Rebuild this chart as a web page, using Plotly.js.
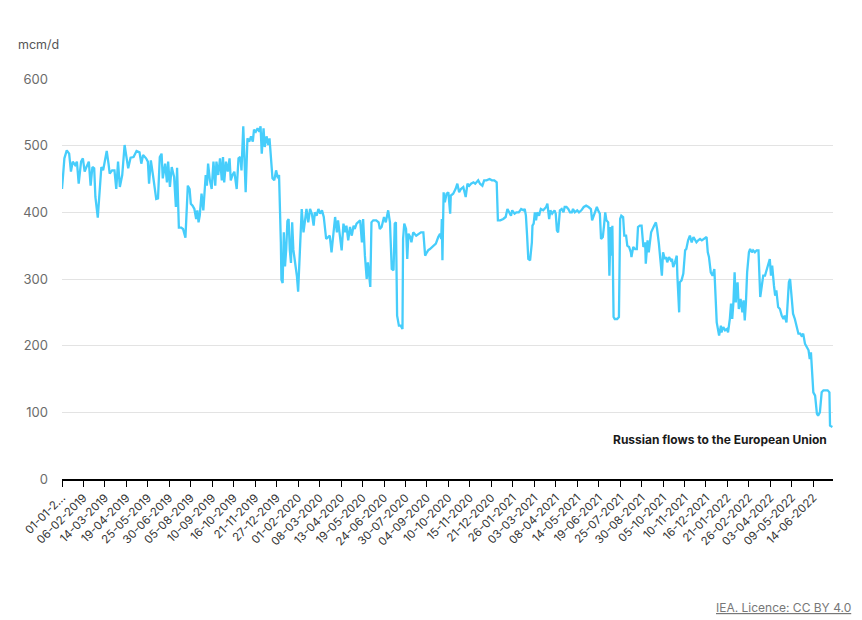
<!DOCTYPE html>
<html>
<head>
<meta charset="utf-8">
<script src="https://cdn.plot.ly/plotly-3.0.1.min.js"></script>
<style>
  html, body { margin: 0; padding: 0; background: #fff; }
  #chart { width: 862px; height: 620px; }
</style>
</head>
<body>
<div id="chart"></div>
<script>
// days counted from 01-01-2019 (mcm/d)
var startDate = "2019-01-01";

var dayOffset = [
  0, 4, 8, 12, 15, 18, 22, 25, 28, 32, 35, 38, 41, 45, 48, 51, 54, 56, 60, 63, 66, 69, 75, 78, 80,
  84, 88, 91, 94, 97, 101, 105, 108, 111, 115, 120, 125, 130, 133, 136, 141, 144, 146, 149, 153,
  158, 161, 164, 167, 169, 173, 176, 178, 181, 184, 188, 191, 193, 196, 200, 203, 207,
  211, 214, 216, 219, 222, 225, 227, 229, 231, 234, 237, 239, 241, 243, 245, 248, 251, 254, 257,
  259, 262, 265, 268, 270, 272, 275, 278, 281, 283, 286, 289, 293, 296, 299, 301, 304, 306, 308,
  311, 314, 317, 320, 322, 325, 328, 331, 333, 335, 338, 340, 343, 346, 348, 351, 353, 356, 359,
  362, 364, 367, 368, 370, 372, 374, 376, 378, 380, 382, 384, 386, 388, 391, 394, 396, 399, 402,
  405, 408, 410, 413,
  416, 419, 422, 424, 427, 430, 433, 436, 439, 443, 447, 449, 452, 455, 458, 461, 463, 466, 469,
  472, 475, 477, 480, 483, 486, 489, 491, 494, 497, 500, 503, 505, 508, 511, 513, 515, 517, 519,
  522, 527, 531, 533, 536, 540, 543, 547, 550, 553, 556, 558, 560, 562, 565, 568, 571, 572, 574,
  577, 579, 581, 584, 586, 589, 594, 598, 602, 606, 609, 612, 614, 617, 621, 624,
  627, 631, 634, 636, 637, 638, 640, 642, 645, 648, 651, 652, 656, 660, 663, 666, 669, 673, 677,
  680, 683, 686, 690, 693, 695, 698, 701, 705, 708, 712, 717, 721, 725, 729, 731, 735, 740, 744,
  747, 750, 753, 755, 759, 762, 766, 770, 774, 776, 778, 780, 782, 785, 788, 789, 791, 793, 795,
  797, 800, 803, 807, 812, 814, 817, 819, 822, 826, 828, 830, 832, 835,
  838, 841, 843, 846, 849, 852, 855, 857, 860, 864, 867, 871, 875, 879, 883, 887, 889, 891, 894,
  897, 899, 902, 904, 907, 909, 911, 913, 916, 918, 920, 922, 923, 925, 927, 931, 934, 936, 938,
  941, 943, 946, 948, 951, 954, 955, 958, 961, 964, 966, 969, 972, 975, 978, 979, 982, 984, 988,
  990, 993, 996, 998, 1001, 1004, 1006, 1008, 1011, 1013, 1015, 1018, 1021, 1023, 1025, 1028,
  1031, 1032, 1035, 1036, 1039, 1042, 1045, 1047, 1050, 1053, 1056, 1059,
  1062, 1064, 1067, 1070, 1073, 1076, 1078, 1081, 1083, 1085, 1088, 1091, 1094, 1096, 1098, 1101,
  1102, 1105, 1106, 1109, 1112, 1115, 1117, 1120, 1122, 1124, 1126, 1128, 1130, 1131, 1133, 1135,
  1138, 1141, 1143, 1145, 1147, 1149, 1152, 1154, 1157, 1159, 1162, 1165, 1168, 1171, 1173, 1176,
  1179, 1182, 1185, 1187, 1189, 1191, 1194, 1196, 1198, 1201, 1204, 1207, 1210, 1212, 1215, 1217,
  1219, 1221, 1224, 1226, 1229, 1232, 1235, 1238, 1240, 1243, 1246, 1249, 1252, 1254, 1256, 1258,
  1260, 1263, 1266, 1268, 1271, 1274, 1277, 1280, 1284, 1287, 1288, 1292
];

var russianFlowsEU = [
  435, 481, 493, 488, 461, 476, 471, 476, 443, 476, 481, 461, 468, 476, 440, 468, 466, 423, 392, 440, 468, 463, 492, 473, 458,
  463, 463, 435, 476, 438, 456, 501, 483, 466, 482, 483, 492, 490, 473, 486, 481, 476, 443, 478, 453,
  420, 421, 483, 488, 451, 473, 445, 476, 438, 468, 453, 408, 467, 377, 377, 375, 362,
  440, 435, 413, 410, 405, 390, 403, 385, 395, 428, 403, 435, 456, 440, 473, 448, 435, 476, 440,
  476, 456, 481, 448, 483, 445, 476, 461, 481, 448, 456, 461, 435, 481, 483, 463, 529, 491, 430,
  511, 506, 514, 506, 524, 521, 526, 521, 529, 488, 526, 498, 514, 501, 511, 476, 451, 448, 463,
  451, 456, 355, 299, 294, 370, 319, 344, 387, 390, 344, 324, 385, 344, 324, 304, 281, 355, 405,
  370, 395, 405, 385,
  405, 398, 380, 400, 395, 405, 398, 403, 393, 360, 363, 365, 340, 370, 393, 370, 388, 365, 343,
  383, 370, 380, 358, 378, 365, 380, 375, 383, 385, 388, 355, 390, 335, 300, 325, 305, 288, 385,
  388, 388, 385, 375, 378, 393, 385, 403, 385, 315, 313, 383, 385, 245, 230, 230, 225, 360, 383,
  375, 330, 368, 363, 355, 370, 365, 368, 370, 370, 335, 340, 343, 345, 348, 350,
  353, 363, 368, 360, 390, 328, 430, 415, 428, 430, 398, 425, 428, 435, 443, 430, 435, 438, 423,
  443, 440, 443, 445, 443, 445, 448, 443, 440, 448, 448, 450, 448, 448, 445, 388, 388, 390, 393,
  405, 400, 395, 403, 398, 400, 400, 405, 403, 405, 395, 365, 330, 328, 355, 380, 383, 400, 388,
  400, 395, 405, 403, 408, 413, 390, 403, 398, 403, 398, 373, 370, 403,
  405, 400, 408, 408, 405, 400, 400, 405, 400, 403, 400, 403, 408, 410, 408, 405, 388, 393, 403,
  408, 403, 398, 360, 363, 380, 400, 388, 385, 305, 378, 335, 380, 243, 240, 240, 243, 390, 395,
  393, 365, 365, 350, 348, 340, 333, 348, 345, 345, 378, 380, 380, 348, 355, 323, 358, 340, 370,
  375, 380, 385, 375, 353, 320, 305, 340, 330, 333, 325, 333, 328, 330, 318, 325,
  335, 305, 250, 295, 298, 308, 343, 345, 358, 365, 355, 363,
  358, 355, 358, 360, 358, 360, 360, 363, 340, 333, 310, 305, 315, 270, 235, 220,
  215, 230, 220, 228, 223, 225, 220, 240, 263, 240, 265, 310, 265, 285, 295, 255,
  270, 250, 268, 238, 265, 310, 340, 345, 340, 343, 340, 343, 343, 273, 288, 305,
  305, 315, 323, 330, 305, 320, 290, 275, 283, 258, 255, 245, 240, 245, 235, 275,
  295, 300, 275, 248, 240, 230, 218, 218, 215, 218, 203, 198, 193, 180, 190, 160,
  130, 125, 98, 95, 100, 130, 133, 133, 133, 130, 80, 78
];

var tickText = [
  "01-01-2...", "06-02-2019", "14-03-2019", "19-04-2019", "25-05-2019", "30-06-2019",
  "05-08-2019", "10-09-2019", "16-10-2019", "21-11-2019", "27-12-2019", "01-02-2020",
  "08-03-2020", "13-04-2020", "19-05-2020", "24-06-2020", "30-07-2020", "04-09-2020",
  "10-10-2020", "15-11-2020", "21-12-2020", "26-01-2021", "03-03-2021", "08-04-2021",
  "14-05-2021", "19-06-2021", "25-07-2021", "30-08-2021", "05-10-2021", "10-11-2021",
  "16-12-2021", "21-01-2022", "26-02-2022", "03-04-2022", "09-05-2022", "14-06-2022"
];
var tickDays = [];
for (var k = 0; k < tickText.length; k++) tickDays.push(k * 36);

function toDate(d) {
  var t = Date.parse(startDate + "T00:00:00Z") + d * 86400000;
  return new Date(t).toISOString().slice(0, 10);
}

var xDates = dayOffset.map(toDate);
var tickVals = tickDays.map(toDate);

var data = [{
  x: xDates,
  y: russianFlowsEU,
  type: 'scatter',
  mode: 'lines',
  line: { color: '#46cdfb', width: 2.3 },
  hoverinfo: 'x+y',
  showlegend: false
}];

var layout = {
  width: 862,
  height: 620,
  margin: { l: 62, r: 29, t: 79, b: 141 },
  paper_bgcolor: '#ffffff',
  plot_bgcolor: '#ffffff',
  font: { family: 'Inter, "Open Sans", sans-serif', color: '#444' },
  xaxis: {
    type: 'date',
    range: [toDate(0), toDate(1293)],
    tickvals: tickVals,
    ticktext: tickText,
    tickangle: -45,
    tickfont: { size: 11.5, color: '#333' },
    ticks: 'outside',
    ticklen: 6,
    tickcolor: '#000',
    showline: true,
    linecolor: '#000',
    linewidth: 1.5,
    showgrid: false,
    zeroline: false
  },
  yaxis: {
    range: [0, 600],
    tickvals: [0, 100, 200, 300, 400, 500, 600],
    tickfont: { size: 13, color: '#6b6b6b' },
    showgrid: true,
    gridcolor: '#e3e3e3',
    gridwidth: 1,
    zeroline: false,
    showline: false,
    ticks: '',
    ticklabelstandoff: 13
  },
  annotations: [
    {
      text: 'mcm/d',
      xref: 'paper', yref: 'paper',
      x: -0.06, y: 1.087,
      xanchor: 'left', yanchor: 'middle',
      showarrow: false,
      font: { size: 12.5, color: '#555' }
    },
    {
      text: '<b>Russian flows to the European Union</b>',
      xref: 'paper', yref: 'paper',
      x: 0.995, y: 0.1,
      xanchor: 'right', yanchor: 'middle',
      showarrow: false,
      font: { size: 12, color: '#1a1a1a' }
    },
    {
      text: '<u>IEA. Licence: CC BY 4.0</u>',
      xref: 'paper', yref: 'paper',
      x: 1.026, y: -0.322,
      xanchor: 'right', yanchor: 'middle',
      showarrow: false,
      font: { size: 12, color: '#777' }
    }
  ]
};

Plotly.newPlot('chart', data, layout, { staticPlot: true });
</script>
</body>
</html>
